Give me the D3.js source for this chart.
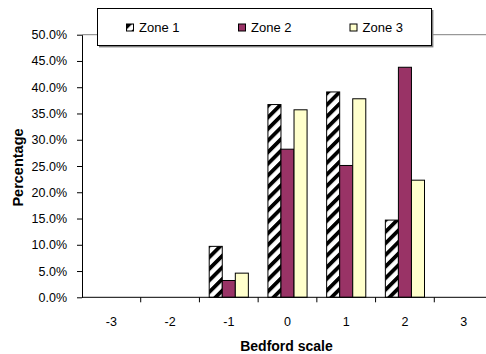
<!DOCTYPE html>
<html>
<head>
<meta charset="utf-8">
<script src="https://cdn.jsdelivr.net/npm/d3@7"></script>
<style>
  html, body { margin: 0; padding: 0; background: #fff; }
  svg { display: block; font-family: "Liberation Sans", Arial, sans-serif; }
</style>
</head>
<body>
<svg id="chart" width="486" height="354"></svg>
<script>
// Bedford scale response distribution per zone (percent of responses)
const categories = ["-3", "-2", "-1", "0", "1", "2", "3"];
const zones = ["Zone 1", "Zone 2", "Zone 3"];
const zone1 = [0, 0, 9.7, 36.7, 39.1, 14.7, 0];
const zone2 = [0, 0, 3.2, 28.2, 25.1, 43.8, 0];
const zone3 = [0, 0, 4.6, 35.7, 37.8, 22.3, 0];
const yTicks = [0, 5, 10, 15, 20, 25, 30, 35, 40, 45, 50];

const series = [zone1, zone2, zone3];
const fills = ["url(#hatch)", "#993366", "#FFFFCC"];

const svg = d3.select("#chart");
const plot = { left: 82, right: 493, top: 34.7, bottom: 297.3 };

// Wide upward diagonal hatch for Zone 1
const defs = svg.append("defs");
const pat = defs.append("pattern")
  .attr("id", "hatch")
  .attr("patternUnits", "userSpaceOnUse")
  .attr("width", 8.2).attr("height", 8.2)
  .attr("patternTransform", "rotate(45)");
pat.append("rect").attr("width", 8.2).attr("height", 8.2).attr("fill", "#fff");
pat.append("rect").attr("width", 3.8).attr("height", 8.2).attr("fill", "#000");

const x = d3.scaleBand().domain(categories).range([plot.left, plot.right]).padding(0);
const xs = d3.scaleBand().domain(zones).range([0, x.step()]).paddingInner(0).paddingOuter(0.75);
const y = d3.scaleLinear().domain([0, 50]).range([plot.bottom, plot.top]);

// Top boundary line at 50%
svg.append("line")
  .attr("x1", plot.left).attr("x2", plot.right)
  .attr("y1", y(50)).attr("y2", y(50))
  .attr("stroke", "#808080").attr("stroke-width", 1);

// Bars
series.forEach((vals, si) => {
  svg.append("g").selectAll("rect")
    .data(categories.map((c, i) => ({ c, v: vals[i] })).filter(d => d.v > 0))
    .join("rect")
    .attr("x", d => x(d.c) + xs(zones[si]))
    .attr("y", d => y(d.v))
    .attr("width", xs.bandwidth())
    .attr("height", d => y(0) - y(d.v))
    .attr("fill", fills[si])
    .attr("stroke", "#000")
    .attr("stroke-width", 1);
});

// Y axis
const yAxis = d3.axisLeft(y)
  .tickValues(yTicks)
  .tickFormat(d => d.toFixed(1) + "%")
  .tickSizeInner(5).tickSizeOuter(0).tickPadding(10);
const gy = svg.append("g").attr("transform", `translate(${plot.left},0)`).call(yAxis);
gy.select(".domain").attr("stroke", "#000");
gy.selectAll(".tick line").attr("stroke", "#000");
gy.selectAll("text").attr("font-size", 12.5).attr("fill", "#000")
  .attr("font-family", "Liberation Sans, Arial, sans-serif");

// X axis: ticks at category boundaries, labels at centres
const gx = svg.append("g").attr("transform", `translate(0,${plot.bottom})`);
gx.append("line")
  .attr("x1", plot.left).attr("x2", plot.right)
  .attr("stroke", "#000");
gx.selectAll("line.tk")
  .data(categories.slice(1))
  .join("line").attr("class", "tk")
  .attr("x1", d => x(d)).attr("x2", d => x(d))
  .attr("y1", 0).attr("y2", 5)
  .attr("stroke", "#000");
gx.selectAll("text")
  .data(categories)
  .join("text")
  .attr("x", d => x(d) + x.bandwidth() / 2)
  .attr("y", 28.5)
  .attr("text-anchor", "middle")
  .attr("font-size", 12.5)
  .text(d => d);

// Axis titles
svg.append("text")
  .attr("x", (plot.left + 492) / 2 - 0.5).attr("y", 351)
  .attr("text-anchor", "middle")
  .attr("font-size", 14).attr("font-weight", "bold")
  .text("Bedford scale");
svg.append("text")
  .attr("transform", "translate(23,167.5) rotate(-90)")
  .attr("text-anchor", "middle")
  .attr("font-size", 14.5).attr("font-weight", "bold")
  .text("Percentage");

// Legend
const lg = svg.append("g");
lg.append("rect").attr("x", 99).attr("y", 10).attr("width", 334.4).attr("height", 37.4)
  .attr("fill", "#808080");
lg.append("rect").attr("x", 97.5).attr("y", 8.5).attr("width", 334).attr("height", 37)
  .attr("fill", "#fff").attr("stroke", "#000").attr("stroke-width", 1);
const legX = [126.5, 238.5, 350];
zones.forEach((z, i) => {
  lg.append("rect")
    .attr("x", legX[i]).attr("y", 24).attr("width", 7).attr("height", 7)
    .attr("fill", fills[i]).attr("stroke", "#000").attr("stroke-width", 1);
  lg.append("text")
    .attr("x", legX[i] + 12.5).attr("y", 32.3)
    .attr("font-size", 13)
    .text(z);
});
</script>
</body>
</html>
